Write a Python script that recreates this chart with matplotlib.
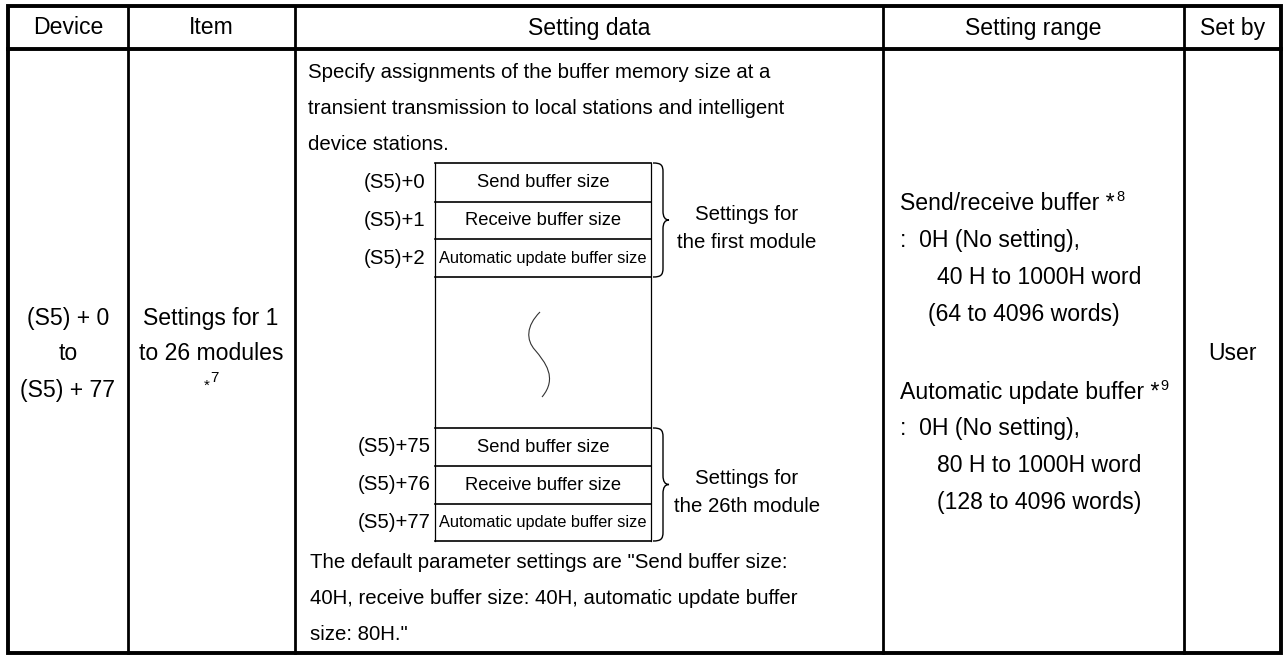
import matplotlib
matplotlib.use('Agg')
import matplotlib.pyplot as plt
from matplotlib.path import Path
from matplotlib.patches import PathPatch, Rectangle

plt.rcParams['font.family'] = ['Liberation Sans', 'DejaVu Sans']

# table content
headers = ['Device', 'Item', 'Setting data', 'Setting range', 'Set by']
device_lines = ['(S5) + 0', 'to', '(S5) + 77']
item_lines = ['Settings for 1', 'to 26 modules']
item_note = '7'
intro_lines = ['Specify assignments of the buffer memory size at a',
               'transient transmission to local stations and intelligent',
               'device stations.']
default_lines = ['The default parameter settings are "Send buffer size:',
                 '40H, receive buffer size: 40H, automatic update buffer',
                 'size: 80H."']
box_fields = ['Send buffer size', 'Receive buffer size', 'Automatic update buffer size']
first_addrs = ['(S5)+0', '(S5)+1', '(S5)+2']
last_addrs = ['(S5)+75', '(S5)+76', '(S5)+77']
first_brace = ['Settings for', 'the first module']
last_brace = ['Settings for', 'the 26th module']
range_sr = ['Send/receive buffer *', ':  0H (No setting),', '40 H to 1000H word', '(64 to 4096 words)']
range_sr_note = '8'
range_au = ['Automatic update buffer *', ':  0H (No setting),', '80 H to 1000H word', '(128 to 4096 words)']
range_au_note = '9'
set_by = 'User'

fig = plt.figure(figsize=(12.85, 6.55), dpi=100)
ax = fig.add_axes([0, 0, 1, 1])
ax.set_xlim(0, 1285)
ax.set_ylim(655, 0)
ax.axis('off')

# grid
col_x = [8, 128, 295, 883, 1184, 1281]
top, head_bot, bot = 6, 49, 653
for x in col_x[1:-1]:
    ax.plot([x, x], [top, bot], color='black', lw=2.0)
ax.plot([col_x[0], col_x[-1]], [head_bot, head_bot], color='black', lw=2.8)
ax.add_patch(Rectangle((col_x[0], top), col_x[-1] - col_x[0], bot - top,
                       fill=False, ec='black', lw=2.8, joinstyle='miter'))

big = 16.6
mid = 14.7

# header
for i, h in enumerate(headers):
    ax.text((col_x[i] + col_x[i + 1]) / 2, 28, h, ha='center', va='center', fontsize=big)

# device / item columns
for y, s in zip([318, 354, 390], device_lines):
    ax.text(68, y, s, ha='center', va='center', fontsize=big)
for y, s in zip([318, 353], item_lines):
    ax.text(211, y, s, ha='center', va='center', fontsize=big)
ax.text(207, 386, '*', ha='center', va='center', fontsize=11)
ax.text(214, 378, item_note, ha='center', va='center', fontsize=11)

# setting data text
for y, s in zip([72, 108, 145], intro_lines):
    ax.text(308, y, s, ha='left', va='center', fontsize=mid)
for y, s in zip([562, 598, 635], default_lines):
    ax.text(310, y, s, ha='left', va='center', fontsize=mid)

# memory box
bx0, bx1 = 435, 651
ax.plot([bx0, bx0], [163, 541], color='black', lw=0.9)
ax.plot([bx1, bx1], [163, 541], color='black', lw=0.9)
groups = [([163, 202, 239, 277], first_addrs, first_brace, 425),
          ([428, 466, 504, 541], last_addrs, last_brace, 431)]
for rows, addrs, brace, lab_x in groups:
    for y in rows:
        ax.plot([bx0, bx1], [y, y], color='black', lw=1.2)
    for k in range(3):
        yc = (rows[k] + rows[k + 1]) / 2
        fs = 11.8 if k == 2 else 13.2
        ax.text((bx0 + bx1) / 2, yc, box_fields[k], ha='center', va='center', fontsize=fs)
        ax.text(lab_x, yc, addrs[k], ha='right', va='center', fontsize=mid)
    # brace
    y0, y1 = rows[0], rows[-1]
    ym = (y0 + y1) / 2
    x0, xm, xt, r = 653, 663, 669, 9
    verts = [(x0, y0), (x0 + 8, y0), (xm, y0 + 2), (xm, y0 + r),
             (xm, ym - r),
             (xm, ym - 3), (xm + 2, ym), (xt, ym),
             (xm + 2, ym), (xm, ym + 3), (xm, ym + r),
             (xm, y1 - r),
             (xm, y1 - 2), (x0 + 8, y1), (x0, y1)]
    codes = [Path.MOVETO, Path.CURVE4, Path.CURVE4, Path.CURVE4,
             Path.LINETO,
             Path.CURVE4, Path.CURVE4, Path.CURVE4,
             Path.CURVE4, Path.CURVE4, Path.CURVE4,
             Path.LINETO,
             Path.CURVE4, Path.CURVE4, Path.CURVE4]
    ax.add_patch(PathPatch(Path(verts, codes), fill=False, ec='black', lw=1.0))
    ax.text(747, ym - 6, brace[0], ha='center', va='center', fontsize=mid)
    ax.text(747, ym + 22, brace[1], ha='center', va='center', fontsize=mid)

# wavy break mark
sv = [(540, 312), (526, 326), (526, 340), (535, 350),
      (545, 362), (558, 378), (542, 397)]
sc = [Path.MOVETO, Path.CURVE4, Path.CURVE4, Path.CURVE4,
      Path.CURVE4, Path.CURVE4, Path.CURVE4]
ax.add_patch(PathPatch(Path(sv, sc), fill=False, ec='#333333', lw=0.8))

# setting range
def note(t, s):
    ax.annotate(s, xy=(1, 1), xycoords=t, xytext=(1, 1), textcoords='offset points',
                ha='left', va='top', fontsize=10.5)

for lines, ys, n in [(range_sr, [203, 240, 277, 315], range_sr_note),
                     (range_au, [392, 429, 465, 503], range_au_note)]:
    t = ax.text(900, ys[0], lines[0], ha='left', va='center', fontsize=big)
    note(t, n)
    ax.text(900, ys[1], lines[1], ha='left', va='center', fontsize=big)
    ax.text(937, ys[2], lines[2], ha='left', va='center', fontsize=big)
    ax.text(937 if n == '9' else 928, ys[3], lines[3], ha='left', va='center', fontsize=big)

ax.text(1232, 353, set_by, ha='center', va='center', fontsize=big)

fig.savefig('out.png', dpi=100)
